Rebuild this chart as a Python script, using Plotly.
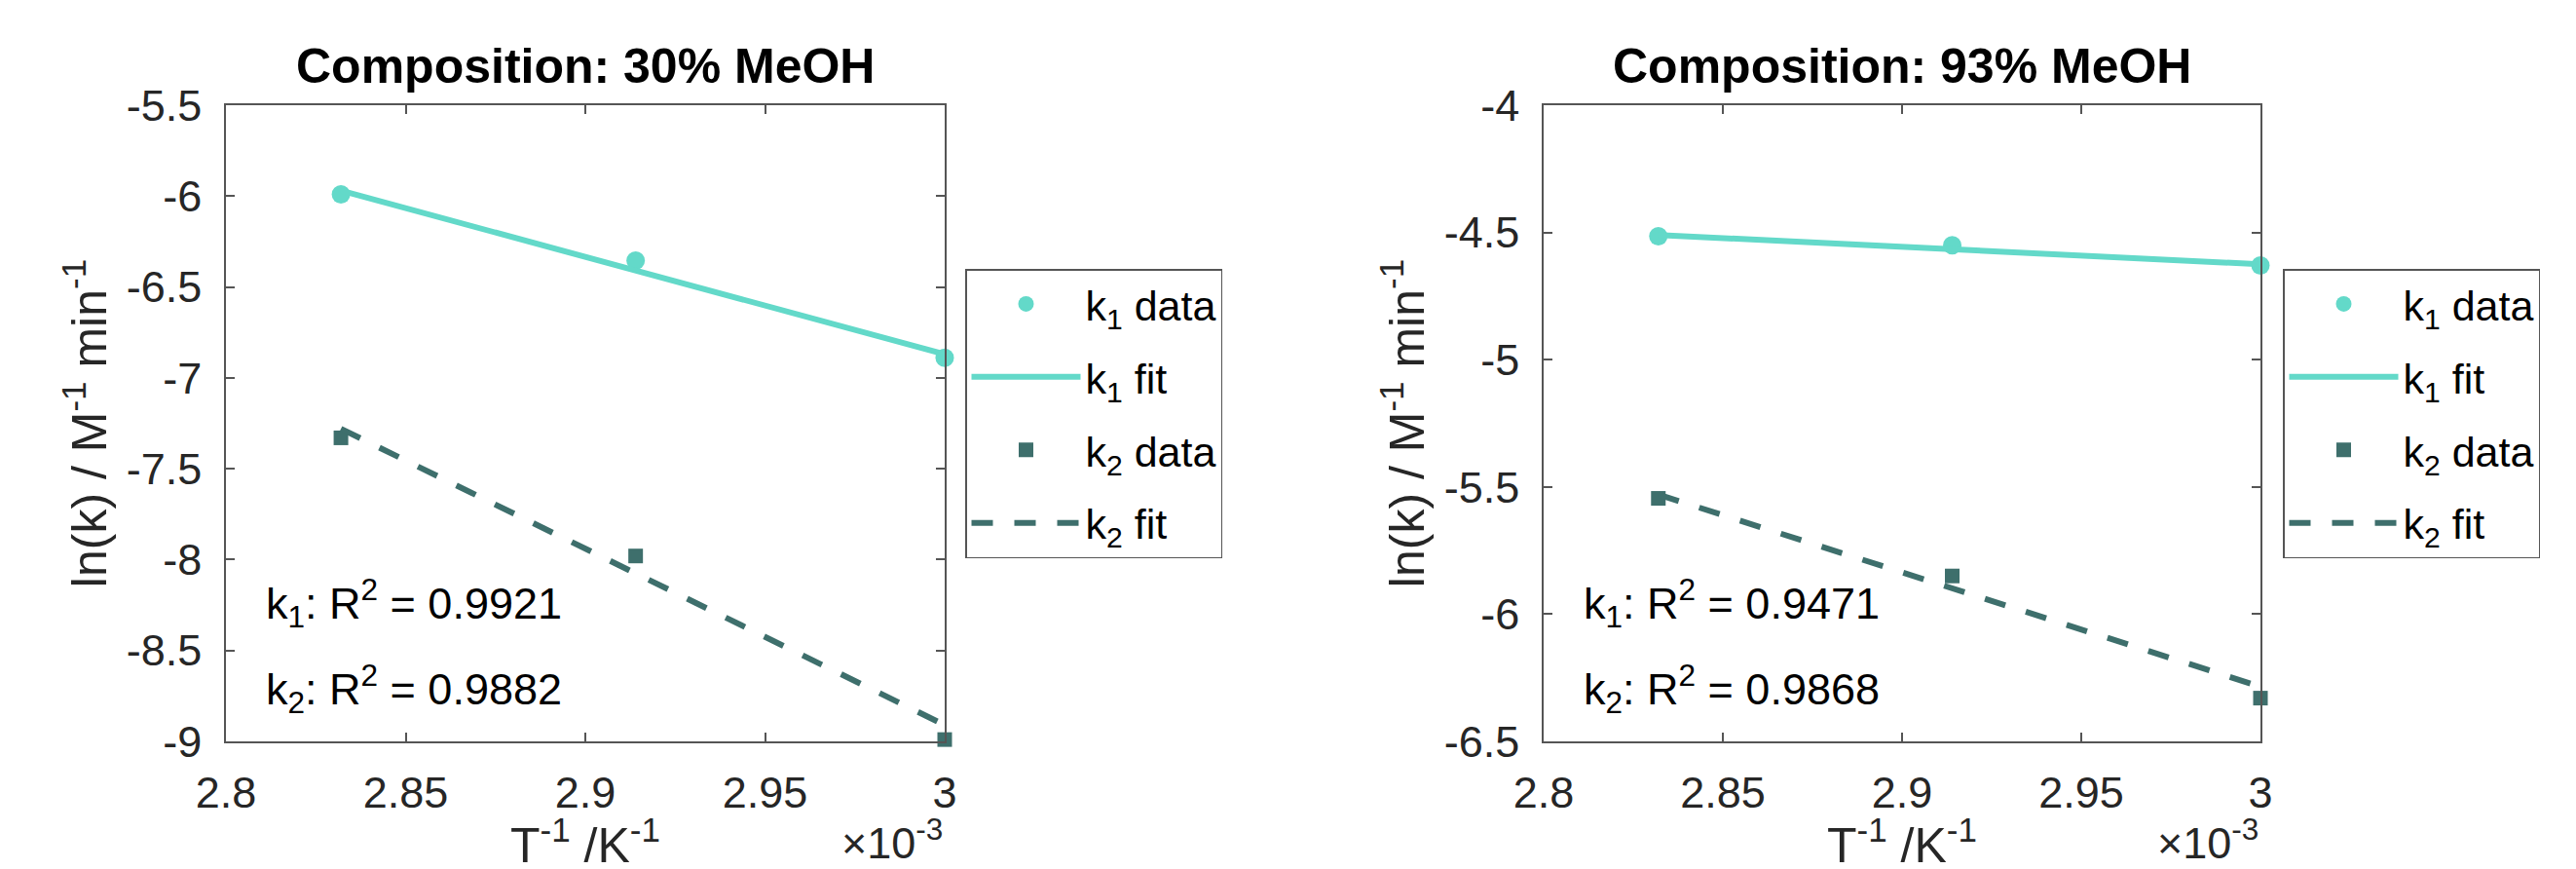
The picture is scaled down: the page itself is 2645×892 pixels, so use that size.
import plotly.graph_objects as go

# ---------------- data ----------------
inv_T = [2.832, 2.914, 3.0]            # T^-1 (x10^-3 K^-1)
fit_x = [2.832, 3.0]

# 30% MeOH
k1_30 = [-5.99, -6.355, -6.89]
k2_30 = [-7.33, -7.98, -8.99]
k1_30_fit = [-5.97, -6.87]
k2_30_fit = [-7.28, -8.91]
r2_30 = ["0.9921", "0.9882"]

# 93% MeOH
k1_93 = [-4.515, -4.55, -4.63]
k2_93 = [-5.545, -5.85, -6.33]
k1_93_fit = [-4.51, -4.625]
k2_93_fit = [-5.53, -6.285]
r2_93 = ["0.9471", "0.9868"]

titles = ["Composition: 30% MeOH", "Composition: 93% MeOH"]
x_title = "T<sup>-1</sup> /K<sup>-1</sup>"
y_title = "ln(k) / M<sup>-1</sup> min<sup>-1</sup>"
x_ticks = [2.8, 2.85, 2.9, 2.95, 3.0]
x_ticktext = ["2.8", "2.85", "2.9", "2.95", "3"]
y_ticks_30 = [-9, -8.5, -8, -7.5, -7, -6.5, -6, -5.5]
y_ticks_93 = [-6.5, -6, -5.5, -5, -4.5, -4]

C1 = "#63D9C9"
C2 = "#3E6F6C"
FONT = "Liberation Sans, Arial, Helvetica, sans-serif"
AX = "#555555"
TXT = "#262626"

W, H = 2645, 892
ML, MR, MT, MB = 224, 332, 100, 139
PW = W - ML - MR
PH = H - MT - MB

fig = go.Figure()

panels = [
    (k1_30, k2_30, k1_30_fit, k2_30_fit, "x", "y", "legend"),
    (k1_93, k2_93, k1_93_fit, k2_93_fit, "x2", "y2", "legend2"),
]
for i, (k1, k2, k1f, k2f, xa, ya, lg) in enumerate(panels):
    fig.add_trace(go.Scatter(x=inv_T, y=k1, mode="markers", name="k<sub>1</sub> data",
                             marker=dict(symbol="circle", size=19, color=C1),
                             cliponaxis=False, xaxis=xa, yaxis=ya, legend=lg, legendgroup=f"a{i}"))
    fig.add_trace(go.Scatter(x=fit_x, y=k1f, mode="lines", name="k<sub>1</sub> fit",
                             line=dict(color=C1, width=6),
                             xaxis=xa, yaxis=ya, legend=lg, legendgroup=f"b{i}"))
    fig.add_trace(go.Scatter(x=inv_T, y=k2, mode="markers", name="k<sub>2</sub> data",
                             marker=dict(symbol="square", size=15, color=C2),
                             cliponaxis=False, xaxis=xa, yaxis=ya, legend=lg, legendgroup=f"c{i}"))
    fig.add_trace(go.Scatter(x=fit_x, y=k2f, mode="lines", name="k<sub>2</sub> fit",
                             line=dict(color=C2, width=6, dash="22px,22px"),
                             xaxis=xa, yaxis=ya, legend=lg, legendgroup=f"d{i}"))

dom1 = [0, 738 / PW]
dom2 = [(1577 - ML) / PW, 1.0]

common_x = dict(range=[2.8, 3.0], tickvals=x_ticks, ticktext=x_ticktext,
                ticks="inside", ticklen=9, tickwidth=1.5, tickcolor=AX,
                showline=True, linecolor=AX, linewidth=1.5, mirror="ticks",
                showgrid=False, zeroline=False,
                tickfont=dict(family=FONT, size=45, color=TXT),
                ticklabelstandoff=12,
                automargin=False)
common_y = dict(ticks="inside", ticklen=9, tickwidth=1.5, tickcolor=AX,
                showline=True, linecolor=AX, linewidth=1.5, mirror="ticks",
                showgrid=False, zeroline=False,
                tickfont=dict(family=FONT, size=45, color=TXT),
                ticklabelstandoff=14,
                title=dict(text=y_title,
                           font=dict(family=FONT, size=50, color=TXT), standoff=4),
                automargin=False)

fig.update_layout(
    xaxis=dict(domain=dom1, anchor="y", **common_x),
    yaxis=dict(domain=[0, 1], anchor="x", range=[-9, -5.5], tickvals=y_ticks_30,
               ticktext=[f"{v:g}" for v in y_ticks_30], **common_y),
    xaxis2=dict(domain=dom2, anchor="y2", **common_x),
    yaxis2=dict(domain=[0, 1], anchor="x2", range=[-6.5, -4], tickvals=y_ticks_93,
                ticktext=[f"{v:g}" for v in y_ticks_93], **common_y),
)

leg_common = dict(xanchor="left", yanchor="top", bgcolor="white",
                  bordercolor=AX, borderwidth=1.5,
                  font=dict(family=FONT, size=43, color="black"),
                  itemwidth=112, tracegroupgap=16, traceorder="grouped")
fig.update_layout(
    legend=dict(x=(983 - ML) / PW, y=(H - MB - 268) / PH, **leg_common),
    legend2=dict(x=(2336 - ML) / PW, y=(H - MB - 268) / PH, **leg_common),
)

annotations = []
doms = [dom1, dom2]
for i, t in enumerate(titles):
    xc = (doms[i][0] + doms[i][1]) / 2
    annotations.append(dict(text=f"<b>{t}</b>", xref="paper", yref="paper",
                            x=xc, y=1 + 40 / PH,
                            xanchor="center", yanchor="middle", showarrow=False,
                            font=dict(family=FONT, size=50, color="black")))
    # x-axis title
    annotations.append(dict(text=x_title, xref="paper", yref="paper",
                            x=xc, y=-(103) / PH,
                            xanchor="center", yanchor="middle", showarrow=False,
                            font=dict(family=FONT, size=50, color=TXT)))
    annotations.append(dict(text="×10<sup>-3</sup>", xref="paper", yref="paper",
                            x=doms[i][1], y=-(101) / PH,
                            xanchor="right", yanchor="middle", showarrow=False,
                            font=dict(family=FONT, size=45, color=TXT)))

r2_sets = [(r2_30, "x", "y", [-8.24, -8.71]), (r2_93, "x2", "y2", [-5.955, -6.295])]
for r2, xa, ya, ys in r2_sets:
    for j, (val, yy) in enumerate(zip(r2, ys)):
        annotations.append(dict(text=f"k<sub>{j+1}</sub>: R<sup>2</sup> = {val}",
                                xref=xa, yref=ya, x=2.8105, y=yy,
                                xanchor="left", yanchor="middle", showarrow=False,
                                font=dict(family=FONT, size=45, color="black")))

fig.update_layout(
    annotations=annotations,
    width=W, height=H,
    margin=dict(l=ML, r=MR, t=MT, b=MB, autoexpand=False),
    paper_bgcolor="white", plot_bgcolor="white",
    showlegend=True,
)

fig.write_html("out.html")
